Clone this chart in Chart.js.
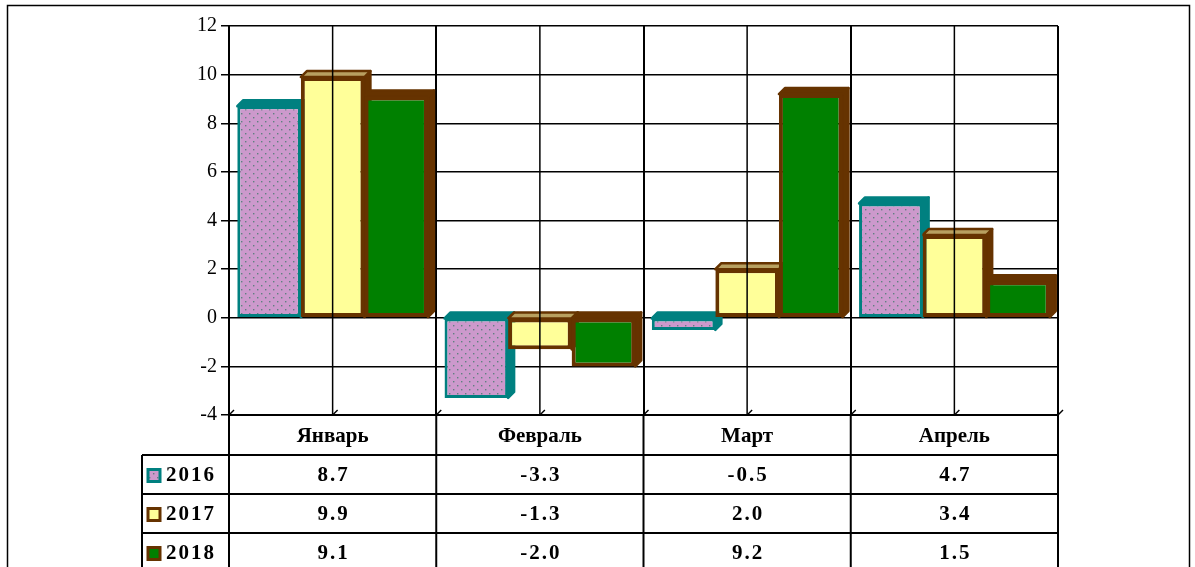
<!DOCTYPE html>
<html><head><meta charset="utf-8">
<script src="https://cdn.jsdelivr.net/npm/chart.js@4"></script>
<style>html,body{margin:0;padding:0;background:#fff}#wrap{width:1195px;height:567px;position:relative}</style>
</head><body><div id="wrap"><canvas id="c"></canvas></div>
<script>
const categories = ['Январь', 'Февраль', 'Март', 'Апрель'];
const seriesNames = ['2016', '2017', '2018'];
const values2016 = [8.7, -3.3, -0.5, 4.7];
const values2017 = [9.9, -1.3, 2.0, 3.4];
const values2018 = [9.1, -2.0, 9.2, 1.5];
const yTicks = [-4, -2, 0, 2, 4, 6, 8, 10, 12];

const PINK = '#CC99CC', TEAL = '#008080', YEL = '#FFFF99', BROWN = '#663300', GREEN = '#008000';

function makePattern() {
  const t = document.createElement('canvas');
  t.width = 8; t.height = 8;
  const g = t.getContext('2d');
  g.fillStyle = PINK; g.fillRect(0, 0, 8, 8);
  g.fillStyle = '#5f7f80';
  g.fillRect(1, 1, 1.4, 1.4);
  g.fillRect(5, 5, 1.4, 1.4);
  return g.createPattern(t, 'repeat');
}
const pat = makePattern();

const fills = [pat, YEL, GREEN];
const borders = [TEAL, BROWN, BROWN];
const borderWidths = [3, 4, 4];
const topFills = [TEAL, '#b8a060', BROWN];

const D = 6;
const threeD = {
  id: 'threeD',
  beforeDatasetsDraw(chart) {
    const ctx = chart.ctx;
    ctx.save();
    chart.data.datasets.forEach((ds, di) => {
      const meta = chart.getDatasetMeta(di);
      meta.data.forEach(el => {
        const p = el.getProps(['x', 'y', 'base', 'width'], true);
        const l = p.x - p.width / 2, r = p.x + p.width / 2;
        const top = Math.min(p.y, p.base), bot = Math.max(p.y, p.base);
        ctx.lineWidth = 2.5;
        ctx.lineJoin = 'round';
        ctx.strokeStyle = borders[di];
        ctx.fillStyle = borders[di];
        ctx.beginPath();
        ctx.moveTo(r, top); ctx.lineTo(r + D, top - D); ctx.lineTo(r + D, bot - D); ctx.lineTo(r, bot); ctx.closePath();
        ctx.fill(); ctx.stroke();
        ctx.fillStyle = topFills[di];
        ctx.beginPath();
        ctx.moveTo(l, top); ctx.lineTo(l + D, top - D); ctx.lineTo(r + D, top - D); ctx.lineTo(r, top); ctx.closePath();
        ctx.fill(); ctx.stroke();
      });
    });
    ctx.restore();
  }
};

const table = {
  id: 'table',
  beforeDraw(chart) {
    const ctx = chart.ctx;
    ctx.save();
    ctx.fillStyle = '#fff';
    ctx.fillRect(0, 0, chart.width, chart.height);
    ctx.restore();
  },
  afterDraw(chart) {
    const ctx = chart.ctx, ca = chart.chartArea, xs = chart.scales.x;
    const n = categories.length;
    const catW = (ca.right - ca.left) / n;
    ctx.save();
    ctx.strokeStyle = '#000';
    ctx.lineWidth = 1.5;
    for (let i = 0; i < n; i++) {
      const x = xs.getPixelForValue(i);
      ctx.beginPath(); ctx.moveTo(x, ca.top); ctx.lineTo(x, ca.bottom); ctx.stroke();
    }
    for (let k = 0; k <= 2 * n; k++) {
      const x = ca.left + k * catW / 2;
      ctx.beginPath(); ctx.moveTo(x, ca.bottom); ctx.lineTo(x + 5, ca.bottom - 5); ctx.stroke();
    }
    const hdrBot = ca.bottom + 40, rowH = 39;
    const tableLeft = 142;
    ctx.lineWidth = 2;
    for (let k = 0; k <= n; k++) {
      const x = ca.left + k * catW;
      ctx.beginPath(); ctx.moveTo(x, ca.bottom); ctx.lineTo(x, chart.height + 5); ctx.stroke();
    }
    ctx.beginPath(); ctx.moveTo(tableLeft, hdrBot); ctx.lineTo(tableLeft, chart.height + 5); ctx.stroke();
    for (let r = 0; r < 3; r++) {
      const y = hdrBot + r * rowH;
      ctx.beginPath(); ctx.moveTo(tableLeft, y); ctx.lineTo(ca.right, y); ctx.stroke();
    }
    const rows = [values2016, values2017, values2018];
    ctx.font = 'bold 21px "Liberation Serif"';
    ctx.fillStyle = '#000';
    ctx.textBaseline = 'middle';
    try { ctx.letterSpacing = '2px'; } catch (e) {}
    rows.forEach((vals, r) => {
      const cy = hdrBot + r * rowH + rowH / 2 + 1;
      ctx.fillStyle = fills[r];
      ctx.fillRect(148, cy - 6, 12, 12);
      ctx.strokeStyle = borders[r];
      ctx.lineWidth = 3;
      ctx.strokeRect(148, cy - 6, 12, 12);
      ctx.fillStyle = '#000';
      ctx.textAlign = 'left';
      ctx.fillText(seriesNames[r], 166, cy);
      ctx.textAlign = 'center';
      vals.forEach((v, i) => {
        ctx.fillText(v.toFixed(1), xs.getPixelForValue(i) + 1, cy);
      });
    });
    ctx.lineWidth = 1.5;
    ctx.strokeStyle = '#000';
    ctx.strokeRect(7.5, 5.5, 1182, 600);
    ctx.restore();
  }
};

const datasets = [values2016, values2017, values2018].map((vals, i) => ({
  label: seriesNames[i],
  data: vals,
  backgroundColor: fills[i],
  borderColor: borders[i],
  borderWidth: borderWidths[i],
  borderSkipped: false,
  categoryPercentage: 0.92,
  barPercentage: 1.0
}));

new Chart(document.getElementById('c'), {
  type: 'bar',
  data: { labels: categories, datasets },
  plugins: [threeD, table],
  options: {
    responsive: true,
    maintainAspectRatio: false,
    animation: false,
    events: [],
    layout: { padding: { left: 169, right: 137, top: 26, bottom: 112 } },
    plugins: { legend: { display: false }, tooltip: { enabled: false } },
    scales: {
      x: {
        afterFit(s) { s.height = 40; },
        grid: { color: '#000', lineWidth: 2, drawTicks: false, offset: true },
        border: { display: true, color: '#000', width: 2 },
        ticks: { color: '#000', padding: 9, font: { family: 'Liberation Serif', size: 21, weight: 'bold' } }
      },
      y: {
        min: -4, max: 12,
        afterFit(s) { s.width = 60; },
        afterBuildTicks(s) { s.ticks = yTicks.map(v => ({ value: v })); },
        grid: { color: '#000', lineWidth: 1.5, tickLength: 8 },
        border: { display: true, color: '#000', width: 2 },
        ticks: { color: '#000', padding: 4, font: { family: 'Liberation Serif', size: 20 } }
      }
    }
  }
});
</script></body></html>
